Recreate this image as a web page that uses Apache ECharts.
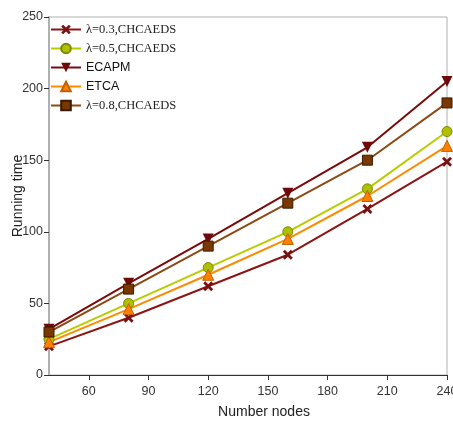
<!DOCTYPE html>
<html><head><meta charset="utf-8">
<script src="https://cdn.jsdelivr.net/npm/echarts@6/dist/echarts.min.js"></script>
<style>html,body{margin:0;padding:0;background:#fff}#c{width:453px;height:421px}</style>
</head><body><div id="c"></div>
<script>
var xNodes = [40, 80, 120, 160, 200, 240];
var xTicks = [60, 90, 120, 150, 180, 210, 240];
var s03 = [20, 40, 62, 84, 116, 149];
var s05 = [25, 50, 75, 100, 130, 170];
var ecapm = [32, 64, 95, 127, 159, 205];
var etca = [23, 46, 70, 95, 125, 160];
var s08 = [30, 60, 90, 120, 150, 190];
var names = ['λ=0.3,CHCAEDS', 'λ=0.5,CHCAEDS', 'ECAPM', 'ETCA', 'λ=0.8,CHCAEDS'];

var xPath = 'path://M0,2 L2,0 L5,3 L8,0 L10,2 L7,5 L10,8 L8,10 L5,7 L2,10 L0,8 L3,5 Z';
function pairs(arr){ return xNodes.map(function(x,i){ return [x, arr[i]]; }); }

var serif = {fontFamily:'Liberation Serif', fontSize:12.5, color:'#222'};
var sans = {fontFamily:'Liberation Sans', fontSize:12.5, color:'#111'};
var tickFont = 'Liberation Sans';

var chart = echarts.init(document.getElementById('c'), null, {renderer:'canvas'});
chart.setOption({
  animation:false,
  grid:{left:49, right:6, top:17, bottom:46, show:true, borderColor:'#b0b0b0', borderWidth:1,
    outerBoundsMode:'none', containLabel:false},
  legend:{
    orient:'vertical', left:45, top:18, itemGap:6, itemWidth:30, itemHeight:12,
    data:[
      {name:names[0], textStyle:serif},
      {name:names[1], textStyle:serif},
      {name:names[2], textStyle:sans},
      {name:names[3], textStyle:sans},
      {name:names[4], textStyle:serif}
    ]
  },
  xAxis:{
    type:'value', min:40, max:240,
    name:'Number nodes', nameLocation:'middle', nameGap:30,
    nameTextStyle:{fontFamily:'Liberation Sans', fontSize:14, color:'#222', padding:[0,0,0,32]},
    axisLine:{lineStyle:{color:'#333'}},
    axisTick:{lineStyle:{color:'#333'}, customValues:xTicks},
    axisLabel:{fontFamily:tickFont, fontSize:12.5, color:'#333', margin:10, customValues:xTicks},
    splitLine:{show:false}
  },
  yAxis:{
    type:'value', min:0, max:250, interval:50,
    name:'Running time', nameLocation:'middle', nameGap:24, nameMoveOverlap:false,
    nameTextStyle:{fontFamily:'Liberation Sans', fontSize:14, color:'#222'},
    axisLine:{show:true, lineStyle:{color:'#b0b0b0', width:2}},
    axisTick:{show:true, lineStyle:{color:'#333'}},
    axisLabel:{fontFamily:tickFont, fontSize:12.5, color:'#333', margin:6},
    splitLine:{show:false}
  },
  series:[
    {name:names[0], type:'line', data:pairs(s03), symbol:xPath, symbolSize:10,
      lineStyle:{color:'#8b1414', width:2}, itemStyle:{color:'#7a1010'}},
    {name:names[1], type:'line', data:pairs(s05), symbol:'circle', symbolSize:10,
      lineStyle:{color:'#b8cc00', width:2}, itemStyle:{color:'#b0c000', borderColor:'#7a8a00', borderWidth:1}},
    {name:names[2], type:'line', data:pairs(ecapm), symbol:'triangle', symbolRotate:180, symbolSize:11,
      lineStyle:{color:'#7a0a0a', width:2}, itemStyle:{color:'#6e0a0a'}},
    {name:names[3], type:'line', data:pairs(etca), symbol:'triangle', symbolSize:11,
      lineStyle:{color:'#ff8a00', width:2}, itemStyle:{color:'#ff8000', borderColor:'#c06000', borderWidth:1}},
    {name:names[4], type:'line', data:pairs(s08), symbol:'rect', symbolSize:10,
      lineStyle:{color:'#8b4a14', width:2}, itemStyle:{color:'#7a3800', borderColor:'#3a1a00', borderWidth:1}}
  ]
});
</script></body></html>
